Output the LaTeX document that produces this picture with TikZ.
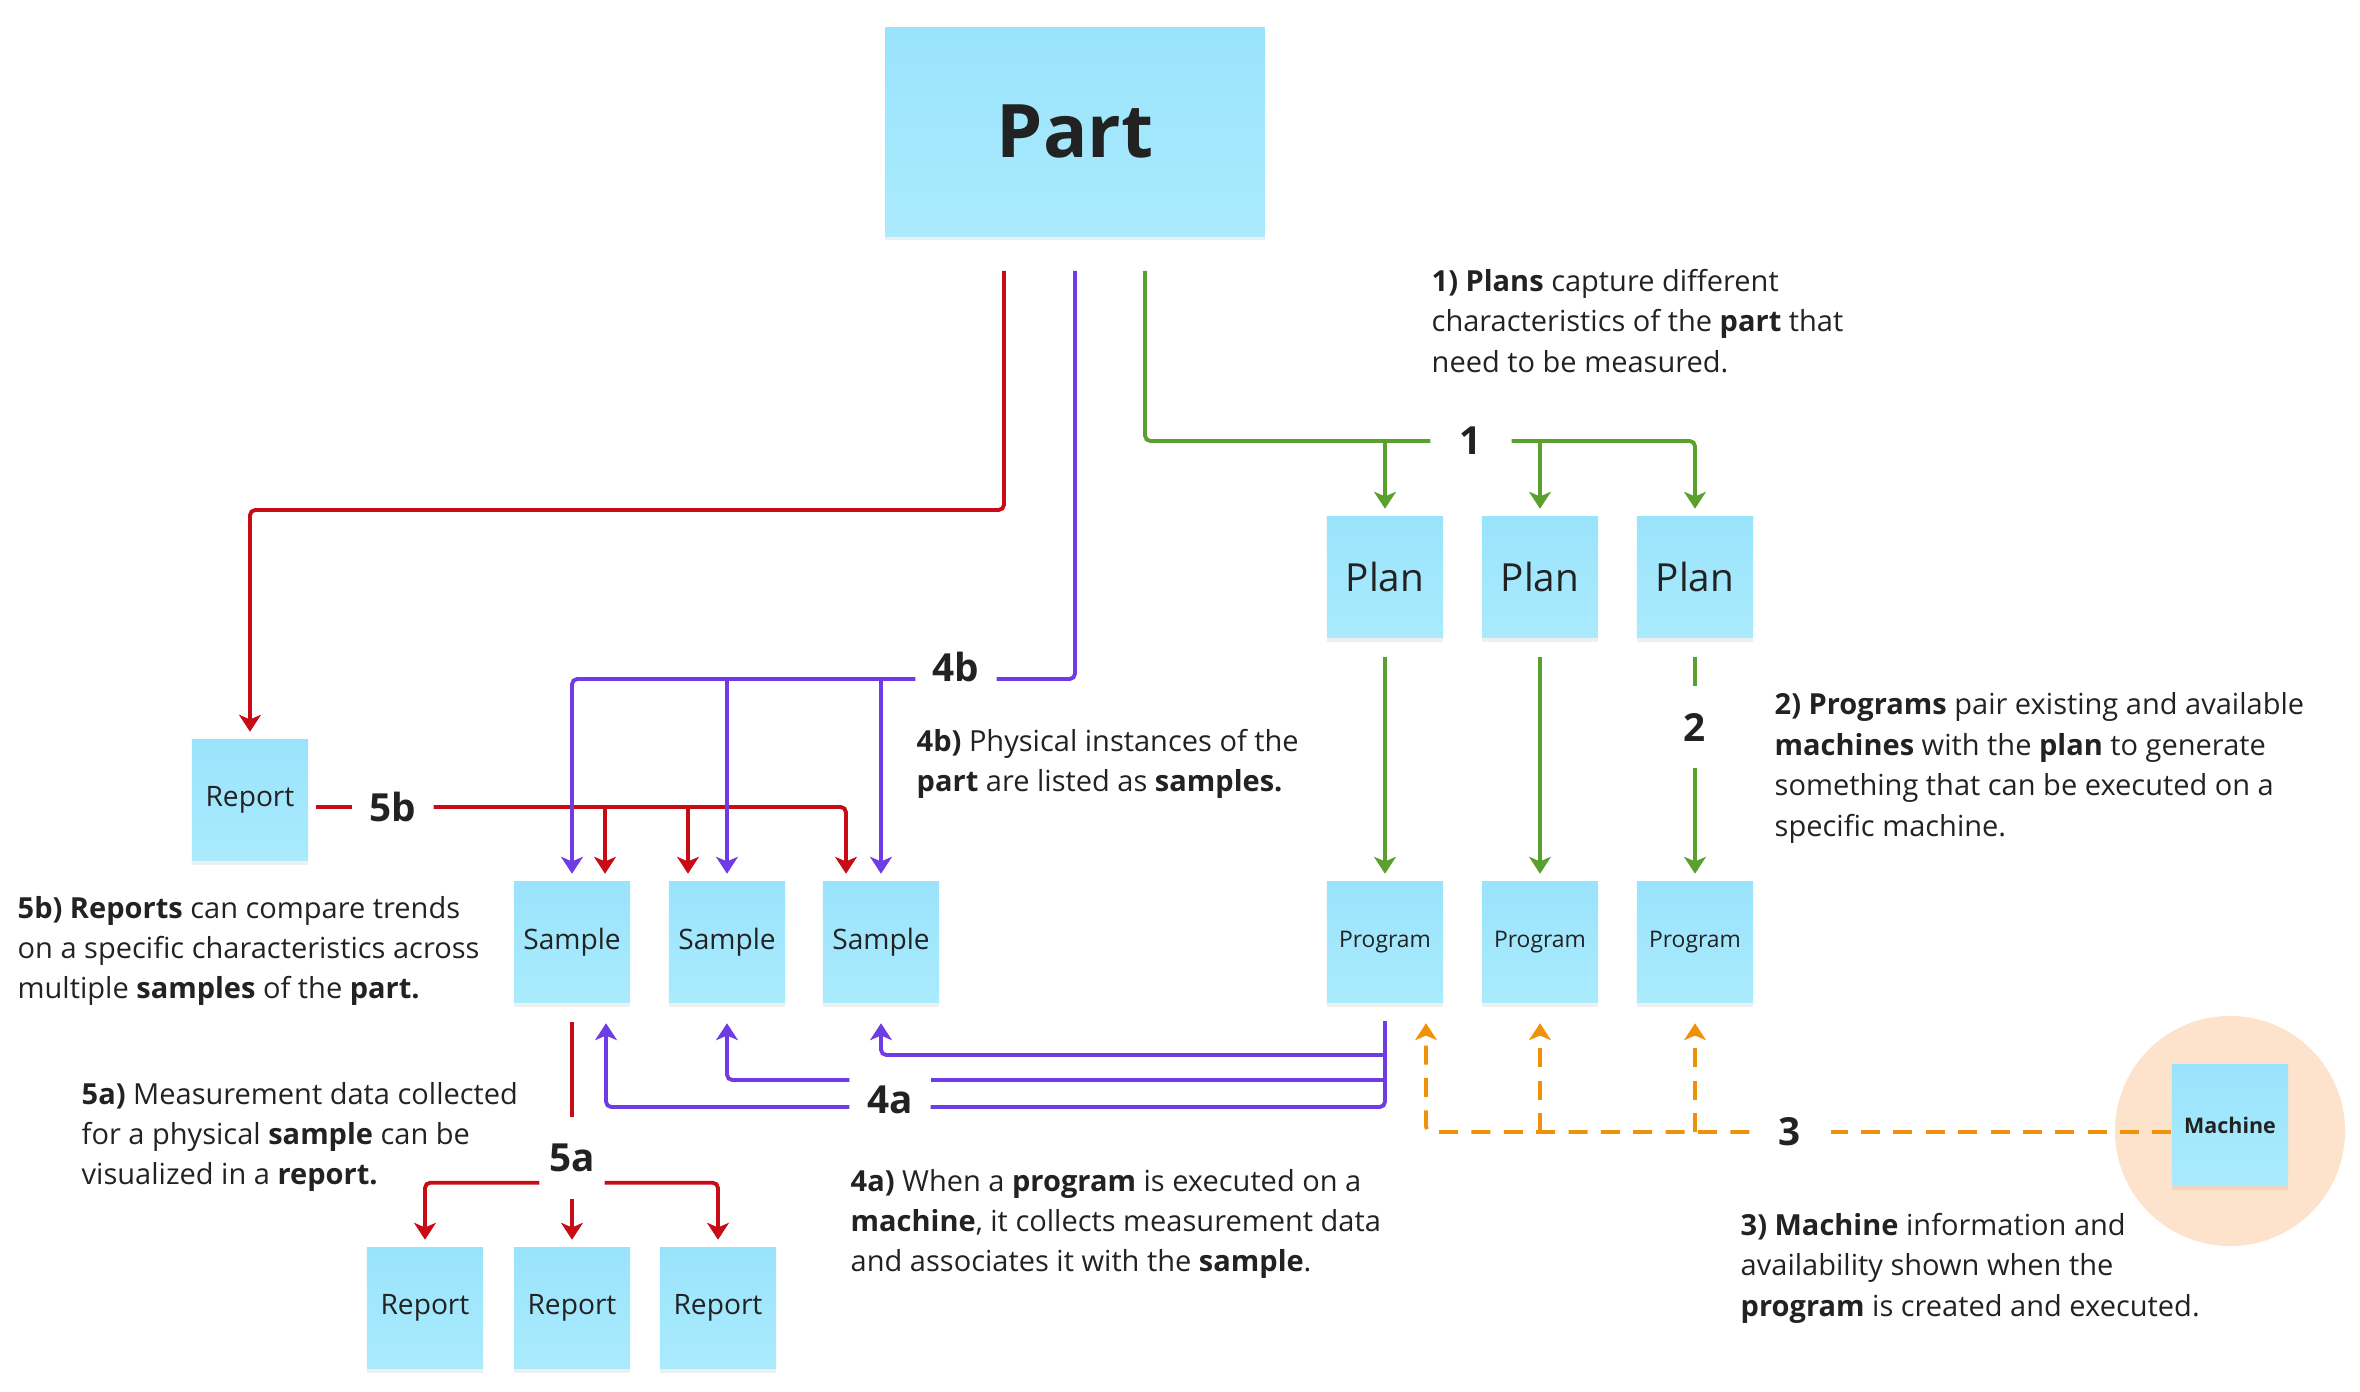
\documentclass[tikz,border=0pt]{standalone}
\usepackage{fontspec}
\setmainfont{Open Sans}
\usetikzlibrary{arrows.meta,shadows}

\definecolor{stickytop}{RGB}{154,227,252}
\definecolor{stickybot}{RGB}{170,235,253}
\definecolor{linered}{RGB}{200,12,22}
\definecolor{linepurple}{RGB}{110,60,226}
\definecolor{linegreen}{RGB}{90,160,45}
\definecolor{lineorange}{RGB}{240,145,10}
\definecolor{peach}{RGB}{253,227,203}
\definecolor{inkgray}{RGB}{34,34,34}

\tikzset{
    sticky/.style={top color=stickytop, bottom color=stickybot, minimum width=1.16cm, minimum height=1.21cm,
                   inner sep=0pt, text=inkgray, font=\fontsize{8}{10}\selectfont,
                   drop shadow={shadow xshift=0pt, shadow yshift=-1.2pt, opacity=0.1, fill=black!60}},
    numlbl/.style={font=\bfseries\fontsize{11}{13}\selectfont, text=inkgray, minimum width=0.8cm, minimum height=0.8cm, inner sep=0pt},
    note/.style={font=\fontsize{8.25}{11.5}\selectfont, text=inkgray, align=left, anchor=west, inner sep=0pt},
    conn/.style={line width=1.1pt, rounded corners=1.5pt},
    redline/.style={conn, draw=linered},
    purpleline/.style={conn, draw=linepurple},
    greenline/.style={conn, draw=linegreen},
    orangeline/.style={conn, draw=lineorange, dash pattern=on 5.4pt off 3.8pt},
    arr/.style={-{Stealth[length=4.8pt, width=6.2pt, inset=1.3pt]}, shorten >=0.07cm},
}

\begin{document}
\begin{tikzpicture}[x=0.01cm, y=-0.01cm]
    \useasboundingbox (0,0) rectangle (2360,1392);

    \fill[peach] (2230,1131) circle (1.15cm);

    \node[sticky, minimum width=3.79cm, minimum height=2.08cm, font=\bfseries\fontsize{21}{24}\selectfont] (part) at (1075,132) {Part};

    \node[sticky, font=\fontsize{11}{13}\selectfont] (plan1) at (1385,577) {Plan};
    \node[sticky, font=\fontsize{11}{13}\selectfont] (plan2) at (1540,577) {Plan};
    \node[sticky, font=\fontsize{11}{13}\selectfont] (plan3) at (1695,577) {Plan};

    \node[sticky, font=\fontsize{6.5}{8}\selectfont] (prog1) at (1385,942) {Program};
    \node[sticky, font=\fontsize{6.5}{8}\selectfont] (prog2) at (1540,942) {Program};
    \node[sticky, font=\fontsize{6.5}{8}\selectfont] (prog3) at (1695,942) {Program};

    \node[sticky] (samp1) at (572,942) {Sample};
    \node[sticky] (samp2) at (727,942) {Sample};
    \node[sticky] (samp3) at (881,942) {Sample};

    \node[sticky] (rep0) at (250,800) {Report};
    \node[sticky] (rep1) at (425,1308) {Report};
    \node[sticky] (rep2) at (572,1308) {Report};
    \node[sticky] (rep3) at (718,1308) {Report};

    \node[sticky, font=\bfseries\fontsize{6.1}{8}\selectfont] (mach) at (2230,1125) {Machine};

    \node[numlbl] (l1) at (1471,441) {1};
    \node[numlbl] (l2) at (1695,727) {2};
    \node[numlbl] (l3) at (1790,1132) {3};
    \node[numlbl] (l4a) at (890,1100) {4a};
    \node[numlbl] (l4b) at (956,667) {4b};
    \node[numlbl, minimum width=0.64cm] (l5a) at (572,1158) {5a};
    \node[numlbl] (l5b) at (393,807) {5b};

    \node[note] (n1) at (1431,321) {\textbf{1) Plans} capture different\\characteristics of the \textbf{part} that\\need to be measured.};
    \node[note] (n2) at (1774,768) {\textbf{2) Programs} pair existing and available\\\textbf{machines} with the \textbf{plan} to generate\\something that can be executed on a\\specific machine.};
    \node[note] (n3) at (1740,1268) {\textbf{3) Machine} information and\\availability shown when the\\\textbf{program} is created and executed.};
    \node[note] (n4a) at (850,1224) {\textbf{4a)} When a \textbf{program} is executed on a\\\textbf{machine}, it collects measurement data\\and associates it with the \textbf{sample}.};
    \node[note] (n4b) at (916,764) {\textbf{4b)} Physical instances of the\\\textbf{part} are listed as \textbf{samples.}};
    \node[note] (n5a) at (81,1137) {\textbf{5a)} Measurement data collected\\for a physical \textbf{sample} can be\\visualized in a \textbf{report.}};
    \node[note] (n5b) at (17,951) {\textbf{5b) Reports} can compare trends\\on a specific characteristics across\\multiple \textbf{samples} of the \textbf{part.}};

    \coordinate (c5b) at (1004,510);
    \coordinate (c4be) at ([yshift=-0.12cm]l4b.east);
    \coordinate (c4bw) at ([yshift=-0.12cm]l4b.west);
    \coordinate (c4a1) at (1385,1055);
    \coordinate (c4a2) at (1385,1080);
    \coordinate (c4a3) at (1385,1107);
    \coordinate (r5b1) at ([xshift=0.33cm]samp1.north);
    \coordinate (r5b2) at ([xshift=-0.39cm]samp2.north);
    \coordinate (r5b3) at ([xshift=-0.35cm]samp3.north);
    \coordinate (p4a1) at ([xshift=0.34cm]samp1.south);
    \coordinate (o3) at ([xshift=0.41cm]prog1.south);

    \draw[greenline, shorten <=0.34cm] ([xshift=0.7cm]part.south) |- (l1.west);
    \draw[greenline, arr] (l1.east) -| (plan3.north);
    \draw[greenline, arr] (plan1.north |- l1.west) -- (plan1.north);
    \draw[greenline, arr] (plan2.north |- l1.east) -- (plan2.north);

    \draw[greenline, arr, shorten <=0.19cm] (plan1.south) -- (prog1.north);
    \draw[greenline, arr, shorten <=0.19cm] (plan2.south) -- (prog2.north);
    \draw[greenline, shorten <=0.19cm] (plan3.south) -- (l2.north);
    \draw[greenline, arr] (l2.south) -- (prog3.north);

    \draw[orangeline] (mach.west |- l3.east) -- (l3.east);
    \draw[orangeline, arr, shorten >=0.2cm] (l3.west) -| (o3);
    \draw[orangeline, arr, shorten >=0.2cm] (prog2.south |- l3.west) -- (prog2.south);
    \draw[orangeline, arr, shorten >=0.2cm] (prog3.south |- l3.west) -- (prog3.south);

    \draw[redline, arr, shorten <=0.34cm] ([xshift=-0.71cm]part.south) -- (c5b) -| (rep0.north);
    \draw[redline, shorten <=0.07cm] (rep0.east |- l5b.west) -- (l5b.west);
    \draw[redline, arr] (l5b.east) -| (r5b3);
    \draw[redline, arr] (r5b1 |- l5b.east) -- (r5b1);
    \draw[redline, arr] (r5b2 |- l5b.east) -- (r5b2);

    \draw[purpleline, shorten <=0.34cm] (part.south) |- (c4be);
    \draw[purpleline, arr] (c4bw) -| (samp1.north);
    \draw[purpleline, arr] (samp2.north |- c4bw) -- (samp2.north);
    \draw[purpleline, arr] (samp3.north |- c4bw) -- (samp3.north);

    \draw[purpleline, shorten <=0.18cm] (prog1.south) |- (c4a3 -| l4a.east);
    \draw[purpleline, arr, shorten >=0.2cm] (c4a1) -| (samp3.south);
    \draw[purpleline] (c4a2) -- (c4a2 -| l4a.east);
    \draw[purpleline, arr, shorten >=0.2cm] (c4a2 -| l4a.west) -| (samp2.south);
    \draw[purpleline, arr, shorten >=0.2cm] (c4a3 -| l4a.west) -| (p4a1);

    \draw[redline, shorten <=0.19cm] (samp1.south) -- (l5a.north);
    \draw[redline, arr] ([yshift=0.16cm]l5a.south west) -| (rep1.north);
    \draw[redline, arr] ([yshift=0.16cm]l5a.south east) -| (rep3.north);
    \draw[redline, arr] (l5a.south) -- (rep2.north);

\end{tikzpicture}
\end{document}
